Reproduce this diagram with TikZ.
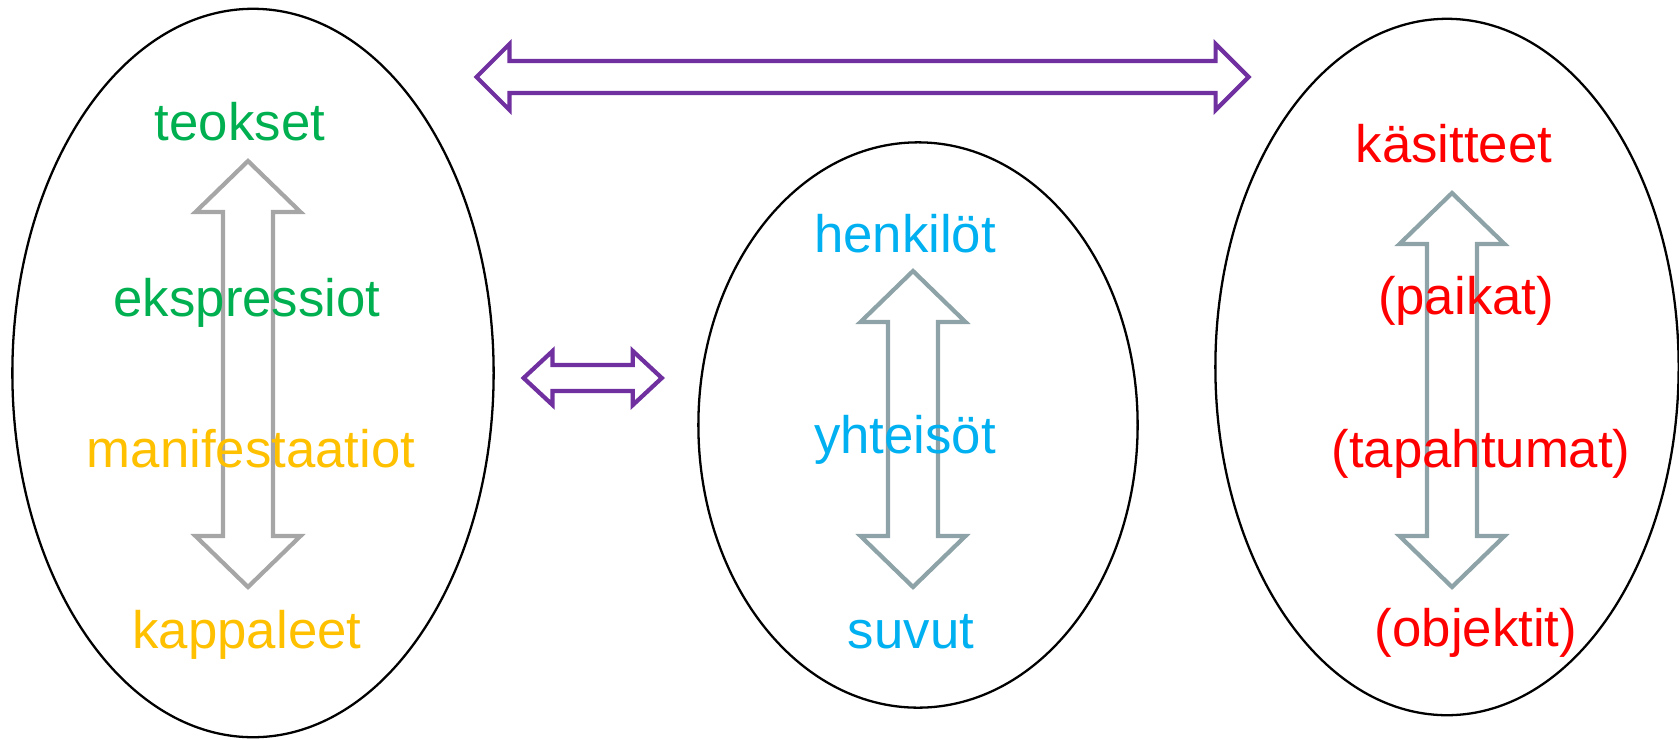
\documentclass[tikz,border=0pt]{standalone}
\usepackage{fontspec}
\setmainfont{Liberation Sans}
\usepackage{tikz}
\usetikzlibrary{shapes.geometric}
\definecolor{frgreen}{RGB}{0,176,80}
\definecolor{frgold}{RGB}{255,192,0}
\definecolor{frcyan}{RGB}{0,176,240}
\definecolor{frred}{RGB}{255,0,0}
\definecolor{frpurple}{RGB}{112,48,160}
\definecolor{frgray}{RGB}{166,166,166}
\definecolor{frslate}{RGB}{141,163,167}
\tikzstyle{group} = [ellipse, draw=black, line width=0.65pt, inner sep=0pt]
\tikzstyle{entity} = [anchor=base, font=\fontsize{15}{18}\selectfont]
\tikzstyle{linkarrow} = [draw=frpurple, line width=1.2pt, line join=miter]
\tikzstyle{levelarrow} = [line width=1.2pt, line join=miter]

% vertical block arrow: style, x, top tip, bottom tip, head length, head half, shaft half
\newcommand{\vblock}[7]{%
  \draw[#1] (#2,#3) -- ({#2+#6},{#3+#5}) -- ({#2+#7},{#3+#5}) -- ({#2+#7},{#4-#5})
    -- ({#2+#6},{#4-#5}) -- (#2,#4) -- ({#2-#6},{#4-#5}) -- ({#2-#7},{#4-#5})
    -- ({#2-#7},{#3+#5}) -- ({#2-#6},{#3+#5}) -- cycle;}
% horizontal block arrow: style, y, left tip, right tip, head length, head half, shaft half
\newcommand{\hblock}[7]{%
  \draw[#1] (#3,#2) -- ({#3+#5},{#2-#6}) -- ({#3+#5},{#2-#7}) -- ({#4-#5},{#2-#7})
    -- ({#4-#5},{#2-#6}) -- (#4,#2) -- ({#4-#5},{#2+#6}) -- ({#4-#5},{#2+#7})
    -- ({#3+#5},{#2+#7}) -- ({#3+#5},{#2+#6}) -- cycle;}

\begin{document}
\begin{tikzpicture}[x=0.01cm, y=-0.01cm]
    \useasboundingbox (0,0) rectangle (1679,739);

    % Groups
    \node[group, minimum width=4.81cm, minimum height=7.28cm] (works) at (253,373) {};
    \node[group, minimum width=4.39cm, minimum height=5.65cm] (agents) at (918,425) {};
    \node[group, minimum width=4.63cm, minimum height=6.96cm] (subjects) at (1447,367) {};

    % Links between groups
    \hblock{linkarrow}{77}{476.5}{1248.6}{33}{33}{16}
    \hblock{linkarrow}{378}{523.6}{661.8}{29}{27}{13}

    % Levels inside groups
    \vblock{levelarrow, draw=frgray}{248}{161}{587}{51}{52.5}{25}
    \vblock{levelarrow, draw=frslate}{913}{271}{587}{51}{52.5}{25}
    \vblock{levelarrow, draw=frslate}{1452}{193}{587}{51}{52.5}{25}

    % Labels
    \node[entity, text=frgreen] (teos) at (240,140) {teokset};
    \node[entity, text=frgreen] (ekspr) at (247,316) {ekspressiot};
    \node[entity, text=frgold] (manif) at (251,467) {manifestaatiot};
    \node[entity, text=frgold] (kappale) at (247,648) {kappaleet};

    \node[entity, text=frcyan] (henkilo) at (905,252) {henkilöt};
    \node[entity, text=frcyan] (yhteiso) at (905,453) {yhteisöt};
    \node[entity, text=frcyan] (suku) at (911,648) {suvut};

    \node[entity, text=frred] (kasite) at (1454,162) {käsitteet};
    \node[entity, text=frred] (paikka) at (1466,314) {(paikat)};
    \node[entity, text=frred] (tapahtuma) at (1481,467) {(tapahtumat)};
    \node[entity, text=frred] (objekti) at (1476,646) {(objektit)};
\end{tikzpicture}
\end{document}
